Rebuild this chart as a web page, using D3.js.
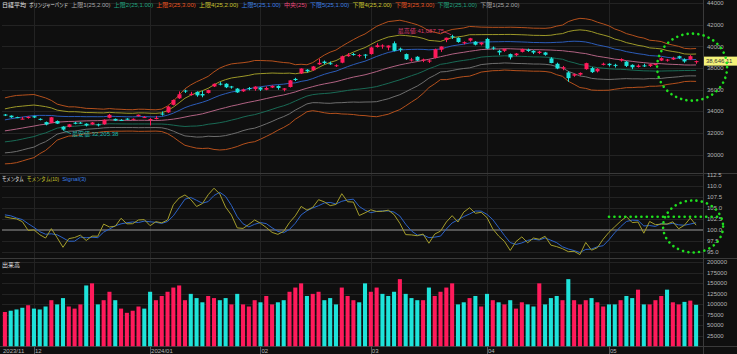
<!DOCTYPE html>
<html><head><meta charset="utf-8">
<script src="https://cdn.jsdelivr.net/npm/d3@7"></script>
<style>
html,body{margin:0;padding:0;background:#0f0f0f;overflow:hidden}
svg{display:block}
text{font-family:"Liberation Sans","Noto Sans CJK JP",sans-serif}
</style></head><body>
<svg id="c" width="737" height="354"></svg>
<script>
const dates = [
"2023-11-24","2023-11-27","2023-11-28","2023-11-29","2023-11-30",
"2023-12-01","2023-12-04","2023-12-05","2023-12-06","2023-12-07","2023-12-08","2023-12-11","2023-12-12","2023-12-13","2023-12-14","2023-12-15","2023-12-18","2023-12-19","2023-12-20","2023-12-21","2023-12-22","2023-12-25","2023-12-26","2023-12-27","2023-12-28",
"2024-01-04","2024-01-05","2024-01-09","2024-01-10","2024-01-11","2024-01-12","2024-01-15","2024-01-16","2024-01-17","2024-01-18","2024-01-19","2024-01-22","2024-01-23","2024-01-24","2024-01-25","2024-01-26","2024-01-29","2024-01-30","2024-01-31",
"2024-02-01","2024-02-02","2024-02-05","2024-02-06","2024-02-07","2024-02-08","2024-02-09","2024-02-13","2024-02-14","2024-02-15","2024-02-16","2024-02-19","2024-02-20","2024-02-21","2024-02-22","2024-02-26","2024-02-27","2024-02-28","2024-02-29",
"2024-03-01","2024-03-04","2024-03-05","2024-03-06","2024-03-07","2024-03-08","2024-03-11","2024-03-12","2024-03-13","2024-03-14","2024-03-15","2024-03-18","2024-03-19","2024-03-21","2024-03-22","2024-03-25","2024-03-26","2024-03-27","2024-03-28","2024-03-29",
"2024-04-01","2024-04-02","2024-04-03","2024-04-04","2024-04-05","2024-04-08","2024-04-09","2024-04-10","2024-04-11","2024-04-12","2024-04-15","2024-04-16","2024-04-17","2024-04-18","2024-04-19","2024-04-22","2024-04-23","2024-04-24","2024-04-25","2024-04-26","2024-04-30",
"2024-05-01","2024-05-02","2024-05-07","2024-05-08","2024-05-09","2024-05-10","2024-05-13","2024-05-14","2024-05-15","2024-05-16","2024-05-17","2024-05-20","2024-05-21","2024-05-22","2024-05-23","2024-05-24"];

const opens = [
33700,33600,33460,33280,33380,33550,33300,33000,32930,33100,
32580,32550,32950,32950,32850,32780,32790,32800,33400,33300,
33200,33320,33220,33550,33440,33193,33300,33790,33900,34600,
35200,35920,35500,35800,35600,35700,36300,36560,36550,36300,
36100,35850,36150,36050,36200,36000,36200,36350,36000,36250,
37000,37500,37850,37800,38350,38600,38450,38200,38500,39100,
39300,39150,39250,39300,39950,40050,39900,40300,39800,39300,
38750,39050,38700,38600,38950,39700,40600,40950,40800,40300,
40550,40450,40200,40700,39900,39600,39600,39300,39200,39500,
39700,39600,39400,39450,38900,38400,37950,37600,37300,37400,
37900,38000,37700,38300,38400,38300,38700,38600,38300,38100,
38250,38200,38300,38700,38700,38800,39100,38800,38800,38550];
const highs = [
33750,33620,33500,33480,33530,33590,33350,33050,33480,33150,
32620,32830,33010,33020,32890,33010,32860,33250,33760,33330,
33270,33360,33340,33700,33560,33364,33570,33990,34480,35100,
35840,36000,35800,35850,35900,36000,36580,36700,36600,36350,
36150,36100,36250,36320,36250,36300,36400,36400,36150,36900,
37100,37980,37900,38200,38860,38700,38600,38350,39156,39390,
39400,39300,39300,39990,40300,40200,40100,40470,39900,39350,
38950,39100,38880,38800,39800,40010,40823,41087.75,40850,40470,
40800,40500,40400,40800,40000,39700,39800,39350,39400,39800,
39800,39650,39600,39500,39000,38500,38200,37700,37500,37600,
38500,38100,38000,38500,38450,38400,38900,38650,38350,38350,
38400,38400,38450,39000,38850,39050,39150,38900,39200,38700];
const lows = [
33560,33390,33370,33250,33320,33380,33160,32700,32900,32820,
32205.38,32520,32800,32850,32600,32750,32600,32760,33350,33100,
33100,33200,33180,33510,33390,32693,33250,33600,33850,34550,
35150,35700,35450,35350,35300,35650,36250,36400,36150,36100,
35700,35800,35950,35900,35880,35950,36150,36000,35850,36200,
36800,37450,37600,37750,38300,38350,38300,38100,38450,39050,
39150,39000,38900,39250,39900,39800,39650,39550,39500,38750,
38600,38650,38550,38480,38900,39500,40400,40700,40350,40200,
40450,40100,40100,39750,39700,39200,39500,38800,39100,39450,
39500,39300,39300,39150,38450,37900,37800,36734,37200,37300,
37850,37550,37600,38250,38150,38050,38600,38100,37900,38050,
38100,38100,38250,38650,38600,38750,38850,38500,38750,38400];
const closes = [
33625,33447,33408,33321,33486,33431,33231,32775,33445,32858,
32307,32791,32843,32926,32686,32970,32758,33219,33675,33140,
33169,33254,33305,33681,33464,33288,33377,33763,34441,35049,
35577,35901,35619,35477,35466,35963,36546,36517,36226,36236,
35751,36026,36066,36286,36011,36158,36354,36160,36119,36863,
36897,37963,37703,38157,38487,38470,38363,38262,39098,39233,
39239,39208,39166,39910,40109,40097,40090,39598,39688,38820,
38797,38695,38807,38707,39740,40003,40815,40888,40414,40398,
40762,40168,40369,39803,39838,39451,39773,38992,39347,39773,
39581,39442,39523,39232,38471,37962,38079,37068,37438,37552,
38460,37628,37934,38405,38274,38236,38835,38202,38073,38229,
38179,38356,38385,38920,38787,38946,38946,38617,39103,38646.11];
const prevClose = 33452; // close of the session before the first bar

// Bollinger middle (25) and sigma, per bar
const bbMid = [
32188,32269,32355,32448,32545,32632,32737,32808,32918,32998,
33027,33060,33066,33092,33113,33126,33133,33158,33198,33182,
33172,33159,33156,33169,33169,33156,33153,33167,33212,33274,
33360,33467,33580,33662,33766,33912,34062,34210,34342,34484,
34595,34726,34840,34944,35059,35178,35302,35416,35514,35650,
35794,35978,36135,36284,36422,36537,36636,36741,36886,37036,
37168,37274,37380,37527,37682,37856,38018,38160,38296,38408,
38514,38608,38714,38817,38932,39056,39171,39298,39388,39465,
39556,39629,39713,39741,39766,39774,39796,39789,39767,39753,
39732,39706,39703,39685,39671,39637,39612,39543,39492,39404,
39343,39215,39097,39017,38932,38831,38778,38691,38622,38557,
38506,38450,38426,38409,38370,38344,38325,38289,38284,38291];
const bbSigma = [
1018,1035,1037,1016,994,974,887,811,696,555,
500,450,449,420,386,377,364,346,352,341,
338,331,330,342,340,333,329,346,427,556,
716,872,955,1025,1070,1109,1198,1264,1295,1301,
1285,1258,1245,1253,1214,1168,1120,1055,1001,942,
841,792,725,742,815,891,948,976,1044,1100,
1156,1216,1260,1331,1395,1414,1429,1402,1379,1302,
1218,1135,1019,874,796,706,746,760,752,751,
767,732,693,681,669,667,659,665,668,667,
666,664,663,666,688,750,791,921,998,1068,
1074,1082,1052,1025,993,930,888,834,809,775,
758,710,702,683,629,596,563,512,501,507];

const momentum = [
103.00,102.70,102.52,101.90,99.91,100.03,98.93,98.17,100.30,98.24,
96.07,98.03,98.29,98.83,97.61,98.62,98.59,101.34,100.69,100.85,
102.66,101.40,101.43,102.28,102.36,100.97,101.89,101.63,102.26,105.76,
107.27,107.97,106.93,105.34,106.01,108.02,109.50,108.18,105.20,103.40,
100.48,100.36,101.26,102.28,101.52,100.56,99.45,99.01,99.70,101.71,
103.22,105.36,104.52,105.15,106.89,106.39,105.53,105.81,108.25,106.43,
106.34,103.29,103.90,104.59,104.21,104.24,104.51,103.50,101.51,98.95,
98.88,98.70,99.08,96.99,99.08,99.75,101.82,103.26,101.81,104.07,
105.05,103.80,104.02,102.82,100.25,98.63,97.43,95.35,97.38,98.44,
97.11,98.18,97.89,98.57,96.56,96.22,95.75,95.08,95.15,94.42,
97.17,95.41,95.98,97.91,99.48,100.74,101.99,103.05,101.68,101.81,
99.27,101.94,101.21,101.33,101.36,101.86,100.28,101.10,102.71,101.10];
const signal = [
103.44,103.23,102.74,102.37,101.44,100.61,99.62,99.04,99.13,98.90,
98.20,97.45,97.46,98.38,98.24,98.35,98.27,99.52,100.21,100.96,
101.40,101.64,101.83,101.70,102.02,101.87,101.74,101.50,101.93,103.22,
105.10,107.00,107.39,106.75,106.09,106.46,107.84,108.57,107.63,105.59,
103.03,101.41,100.70,101.30,101.69,101.45,100.51,99.67,99.39,100.14,
101.54,103.43,104.37,105.01,105.52,106.14,106.27,105.91,106.53,106.83,
107.01,105.35,104.51,103.93,104.23,104.35,104.32,104.08,103.17,101.32,
99.78,98.84,98.89,98.26,98.38,98.61,100.22,101.61,102.30,103.05,
103.64,104.31,104.29,103.55,102.36,100.57,98.77,97.14,96.72,97.06,
97.64,97.91,97.73,98.21,97.67,97.12,96.18,95.68,95.33,94.88,
95.58,95.67,96.19,96.43,97.79,99.38,100.74,101.93,102.24,102.18,
100.92,101.01,100.81,101.49,101.30,101.52,101.17,101.08,101.36,101.64];

const volumes = [
82000,85000,88000,92000,98000,90000,88000,95000,110000,100000,
115000,95000,90000,100000,145000,150000,100000,110000,130000,110000,
90000,80000,85000,95000,90000,130000,110000,120000,130000,140000,
145000,110000,125000,115000,105000,120000,115000,110000,115000,100000,
125000,100000,95000,110000,105000,120000,100000,105000,110000,130000,
140000,150000,120000,125000,130000,110000,115000,100000,140000,120000,
110000,105000,150000,130000,140000,125000,120000,130000,160000,125000,
115000,110000,110000,140000,120000,130000,140000,150000,100000,105000,
115000,120000,95000,125000,110000,105000,100000,110000,90000,105000,
100000,95000,150000,100000,115000,120000,110000,160000,110000,100000,
110000,115000,105000,95000,100000,100000,110000,120000,115000,135000,
100000,100000,110000,120000,135000,105000,100000,106000,109000,99000];

const priceTicks = [30000,32000,34000,36000,38000,40000,42000,44000];
const momTicks = [95,97.5,100,102.5,105,107.5,110,112.5];
const volTicks = [25000,50000,75000,100000,125000,150000,175000,200000];
const monthTickDates = ["2023-11-24","2023-12-01","2024-01-04","2024-02-01","2024-03-01","2024-04-01","2024-05-01"];
const monthTickLabels = ["2023/11","12","2024/01","02","03","04","05"];
const legendLabels = ["日経平均","ボリンジャーバンド","上限1(25,2.00)","上限2(25,1.00)","上限3(25,3.00)","上限4(25,2.00)","上限5(25,1.00)","中央(25)","下限5(25,1.00)","下限4(25,2.00)","下限3(25,3.00)","下限2(25,1.00)","下限1(25,2.00)"];
const momLegendLabels = ["モメンタム","モメンタム(10)","Signal(3)"];
const bandMultipliers = [3,2,1,0,-1,-2,-3];
const momMarkLevel = 103;

// ---------- styles ----------
const legendColors = ["#e4e4e4","#e4e4e4","#a8a8a8","#1fa37f","#e8531f","#c9c42e","#3b7fe3","#e8487c","#3b7fe3","#c9c42e","#e8531f","#1fa37f","#a8a8a8"];
const momLegendColors = ["#e4e4e4","#c9c42e","#3b7fe3"];
const bandColors = ["#b4501c","#9c9828","#2c5cb8","#b06282","#196a55","#6e6e6e","#b4501c"];
const UP = "#ff1a5b", DOWN = "#1ee3da";
const GRID = "#232323", SEP = "#3a3a3a", AXT = "#b4b4b4";

const W = 737, H = 354, XL = 2, XR = 703;
const svg = d3.select("#c");
svg.append("rect").attr("width", W).attr("height", H).attr("fill", "#0f0f0f");

const idx = d3.range(dates.length);
const x = d3.scaleBand().domain(dates).range([XL, 699]).paddingInner(0.3).paddingOuter(0.15);
const bw = x.bandwidth();
const cx = d => x(d) + bw / 2;

const yP = d3.scaleLinear().domain([30000, 44000]).range([154.5, 3.3]);
const yM = d3.scaleLinear().domain([95, 112.5]).range([252, 175]);
const yV = d3.scaleLinear().domain([0, 200000]).range([346.5, 262.3]);

const defs = svg.append("defs");
function clip(id, y0, y1) {
  defs.append("clipPath").attr("id", id).append("rect")
    .attr("x", XL).attr("y", y0).attr("width", XR - XL).attr("height", y1 - y0);
}
clip("cTop", 0, 173); clip("cMom", 174, 258); clip("cVol", 259, 346.5);

// ---------- grid ----------
const grid = svg.append("g").attr("stroke", GRID).attr("stroke-width", 1).attr("shape-rendering", "crispEdges");
grid.selectAll(".gp").data(priceTicks).join("line")
  .attr("x1", XL).attr("x2", XR).attr("y1", d => Math.round(yP(d)) + 0.5).attr("y2", d => Math.round(yP(d)) + 0.5);
grid.selectAll(".gm").data(momTicks.filter(d => d !== 100)).join("line").attr("class", "gm")
  .attr("x1", XL).attr("x2", XR).attr("y1", d => Math.round(yM(d)) + 0.5).attr("y2", d => Math.round(yM(d)) + 0.5);
grid.selectAll(".gv").data(volTicks).join("line").attr("class", "gv")
  .attr("x1", XL).attr("x2", XR).attr("y1", d => Math.round(yV(d)) + 0.5).attr("y2", d => Math.round(yV(d)) + 0.5);
grid.selectAll(".gx").data(monthTickDates.slice(1)).join("line").attr("class", "gx")
  .attr("x1", d => Math.round(cx(d)) + 0.5).attr("x2", d => Math.round(cx(d)) + 0.5).attr("y1", 0).attr("y2", 346);

// separators
const sep = svg.append("g").attr("stroke", SEP).attr("stroke-width", 1).attr("shape-rendering", "crispEdges");
sep.append("line").attr("x1", 0).attr("x2", W).attr("y1", 173.5).attr("y2", 173.5);
sep.append("line").attr("x1", 0).attr("x2", W).attr("y1", 258.5).attr("y2", 258.5);
sep.append("line").attr("x1", 0).attr("x2", W).attr("y1", 346.5).attr("y2", 346.5);
sep.append("line").attr("x1", XR + 0.5).attr("x2", XR + 0.5).attr("y1", 0).attr("y2", 354);

// ---------- Bollinger bands ----------
const gBand = svg.append("g").attr("clip-path", "url(#cTop)");
bandMultipliers.forEach((k, j) => {
  const line = d3.line().x(i => cx(dates[i])).y(i => yP(bbMid[i] + k * bbSigma[i]));
  gBand.append("path").attr("d", line(idx)).attr("fill", "none")
    .attr("stroke", bandColors[j]).attr("stroke-width", 1);
});

// ---------- candles ----------
const gC = svg.append("g").attr("clip-path", "url(#cTop)");
const col = i => closes[i] >= opens[i] ? UP : DOWN;
gC.selectAll(".wick").data(idx).join("line")
  .attr("x1", i => Math.round(cx(dates[i])) + 0.5).attr("x2", i => Math.round(cx(dates[i])) + 0.5)
  .attr("y1", i => yP(highs[i])).attr("y2", i => yP(lows[i]))
  .attr("stroke", col).attr("stroke-width", 1);
gC.selectAll(".body").data(idx).join("rect")
  .attr("x", i => Math.round(cx(dates[i])) + 0.5 - 2).attr("width", 4)
  .attr("y", i => yP(Math.max(opens[i], closes[i])))
  .attr("height", i => Math.max(1, Math.abs(yP(opens[i]) - yP(closes[i]))))
  .attr("fill", col);

// high / low annotations
const hiI = d3.maxIndex(highs), loI = d3.minIndex(lows);
const fmt2 = d3.format(",.2f");
const gA = svg.append("g").style("font-size", "6px");
gA.append("line").attr("x1", cx(dates[hiI]) - 1).attr("x2", cx(dates[hiI]) - 8)
  .attr("y1", yP(highs[hiI])).attr("y2", yP(highs[hiI]) - 3).attr("stroke", "#d83a6e").attr("stroke-width", 0.8);
gA.append("text").attr("x", cx(dates[hiI]) - 8).attr("y", yP(highs[hiI]) - 1.5)
  .attr("text-anchor", "end").attr("fill", "#d83a6e").text("最高値:" + fmt2(highs[hiI]));
gA.append("line").attr("x1", cx(dates[loI]) + 1).attr("x2", cx(dates[loI]) + 8)
  .attr("y1", yP(lows[loI])).attr("y2", yP(lows[loI]) + 3).attr("stroke", "#22b8ad").attr("stroke-width", 0.8);
gA.append("text").attr("x", cx(dates[loI]) + 9).attr("y", yP(lows[loI]) + 5.5)
  .attr("fill", "#22b8ad").text("最安値:" + fmt2(lows[loI]));

// ---------- momentum ----------
svg.append("line").attr("x1", XL).attr("x2", XR).attr("y1", yM(100)).attr("y2", yM(100))
  .attr("stroke", "#9a9a9a").attr("stroke-width", 1);
const gM = svg.append("g").attr("clip-path", "url(#cMom)");
gM.append("path").attr("d", d3.line().x(i => cx(dates[i])).y(i => yM(signal[i]))(idx))
  .attr("fill", "none").attr("stroke", "#2c63c8").attr("stroke-width", 1);
gM.append("path").attr("d", d3.line().x(i => cx(dates[i])).y(i => yM(momentum[i]))(idx))
  .attr("fill", "none").attr("stroke", "#a39d2c").attr("stroke-width", 1);

// ---------- volume (coloured by change vs previous close) ----------
const vcol = i => closes[i] >= (i === 0 ? prevClose : closes[i - 1]) ? UP : DOWN;
const gV = svg.append("g").attr("clip-path", "url(#cVol)");
gV.selectAll("rect").data(idx).join("rect")
  .attr("x", i => x(dates[i])).attr("width", bw)
  .attr("y", i => yV(volumes[i])).attr("height", i => yV(0) - yV(volumes[i]))
  .attr("fill", vcol);

// ---------- right axes ----------
const axT = svg.append("g").style("font-size", "6px").attr("fill", AXT);
const fmtP = d3.format("d"), fmtM = d3.format(".1f");
axT.selectAll(".tp").data(priceTicks).join("text").attr("x", 707).attr("y", d => yP(d) + 2).text(fmtP);
axT.selectAll(".tm").data(momTicks).join("text").attr("class", "tm").attr("x", 707).attr("y", d => yM(d) + 2).text(fmtM);
axT.selectAll(".tv").data(volTicks).join("text").attr("class", "tv").attr("x", 707).attr("y", d => yV(d) + 2).text(fmtP);

// last price tag
const last = closes[closes.length - 1];
svg.append("rect").attr("x", XR + 1).attr("y", yP(last) - 4.5).attr("width", 33).attr("height", 9).attr("fill", "#f4f27a");
svg.append("text").attr("x", 706).attr("y", yP(last) + 2.2).style("font-size", "6px").attr("fill", "#333")
  .text(d3.format(",.2f")(last));

// ---------- x axis ----------
const gX = svg.append("g").style("font-size", "6px").attr("fill", AXT);
gX.selectAll("text").data(monthTickDates).join("text")
  .attr("x", (d, k) => k === 0 ? 3 : cx(d) + 1).attr("y", 353).text((d, k) => monthTickLabels[k]);
gX.selectAll("line").data(monthTickDates.slice(1)).join("line")
  .attr("x1", d => Math.round(cx(d)) + 0.5).attr("x2", d => Math.round(cx(d)) + 0.5)
  .attr("y1", 346).attr("y2", 354).attr("stroke", "#555");

// ---------- legends ----------
const kanaRe = /[\u30A0-\u30FF]/g;
function legend(labels, colors, y) {
  const g = svg.append("g").style("font-size", "6px");
  let xx = 2;
  labels.forEach((t, k) => {
    const tx = g.append("text").attr("x", 0).attr("y", 0).attr("fill", colors[k]).text(t);
    const w0 = tx.node().getComputedTextLength();
    const n = (t.match(kanaRe) || []).length;
    const w = w0 - n * 6 * 0.28;
    const s = w / w0;
    tx.attr("transform", `translate(${xx},${y}) scale(${s},1)`);
    xx += w + 3.2;
  });
}
legend(legendLabels, legendColors, 7);
legend(momLegendLabels, momLegendColors, 181);
svg.append("text").attr("x", 2).attr("y", 267).style("font-size", "6px").attr("fill", "#e4e4e4").text("出来高");

// ---------- green dotted markers ----------
const gG = svg.append("g").attr("fill", "none").attr("stroke", "#1fe01f").attr("stroke-width", 2.6)
  .attr("stroke-linecap", "round").attr("stroke-dasharray", "0.1 5.3");
const lastX = cx(dates[dates.length - 1]);
gG.append("ellipse").attr("cx", lastX - 4).attr("cy", yP(last) + 6).attr("rx", 35).attr("ry", 33.5);
gG.append("ellipse").attr("cx", lastX - 3).attr("cy", yM(100) - 3.5).attr("rx", 30).attr("ry", 26);
gG.append("line").attr("x1", cx(dates[104])).attr("x2", 718).attr("y1", yM(momMarkLevel)).attr("y2", yM(momMarkLevel));
</script>
</body></html>
